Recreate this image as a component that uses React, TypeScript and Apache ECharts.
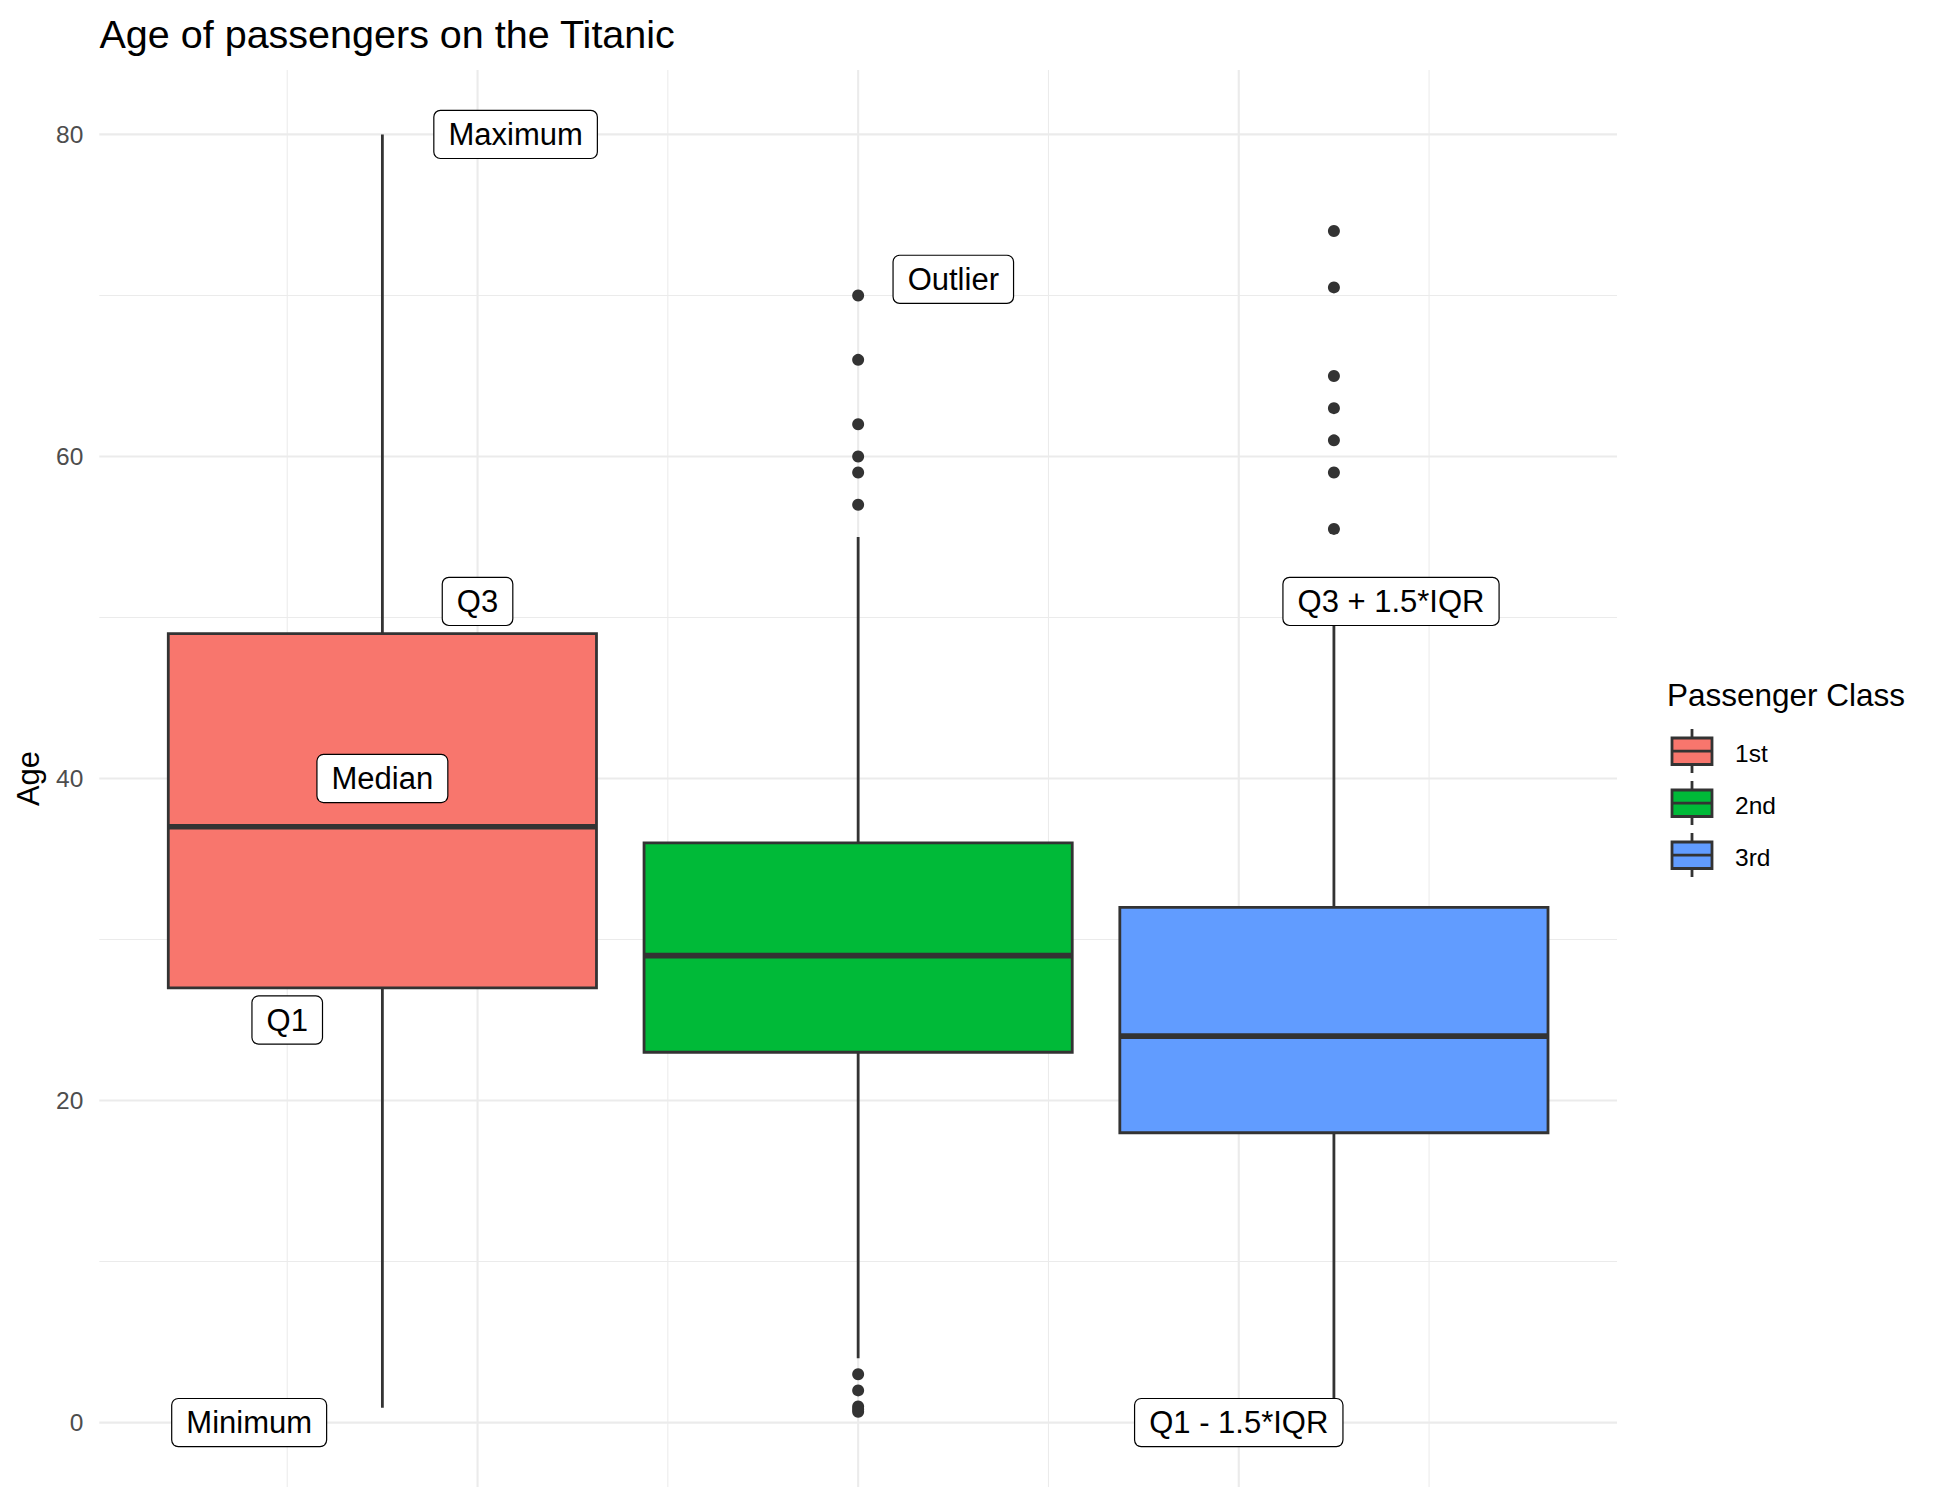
import React, { useEffect, useRef } from 'react';
import * as echarts from 'echarts';

const FONT = '"Liberation Sans", Arial, Helvetica, sans-serif';

const classes = ['1st', '2nd', '3rd'];
const classPositions = [1, 2, 3];
const classColors = ['#F8766D', '#00BA38', '#619CFF'];
// [lower whisker, Q1, median, Q3, upper whisker]
const boxStats = [
  [0.92, 27, 37, 49, 80],
  [4, 23, 29, 36, 55],
  [0.42, 18, 24, 32, 51],
];
const outliers2nd = [70, 66, 62, 60, 59, 57, 3, 2, 1, 0.83, 0.67];
const outliers3rd = [74, 70.5, 65, 63, 61, 59, 55.5];

const yTicks = [0, 20, 40, 60, 80];
const yMinorGrid = [10, 30, 50, 70];
const xMajorGrid = [1.2, 2.0, 2.8];
const xMinorGrid = [0.8, 1.6, 2.4, 3.2];

const annotationText = ['Maximum', 'Q3', 'Median', 'Q1', 'Minimum', 'Outlier', 'Q3 + 1.5*IQR', 'Q1 - 1.5*IQR'];
const annotationX = [1.28, 1.2, 1.0, 0.8, 0.72, 2.2, 3.12, 2.8];
const annotationY = [80, 51, 40, 25, 0, 71, 51, 0];

const X_MIN = 0.405;
const X_MAX = 3.595;
const Y_MIN = -4;
const Y_MAX = 84;
const BOX_WIDTH = 0.9;

function hGrid(values: number[], width: number) {
  return {
    type: 'custom',
    z: 0,
    silent: true,
    data: values.map((v) => [v]),
    renderItem: (params: any, api: any) => {
      const v = api.value(0);
      const a = api.coord([X_MIN, v]);
      const b = api.coord([X_MAX, v]);
      return {
        type: 'line',
        shape: { x1: a[0], y1: a[1], x2: b[0], y2: b[1] },
        style: { stroke: '#ebebeb', lineWidth: width },
      };
    },
  };
}

function vGrid(values: number[], width: number) {
  return {
    type: 'custom',
    z: 0,
    silent: true,
    data: values.map((v) => [v]),
    renderItem: (params: any, api: any) => {
      const v = api.value(0);
      const a = api.coord([v, Y_MIN]);
      const b = api.coord([v, Y_MAX]);
      return {
        type: 'line',
        shape: { x1: a[0], y1: a[1], x2: b[0], y2: b[1] },
        style: { stroke: '#ebebeb', lineWidth: width },
      };
    },
  };
}

export default function App() {
  const ref = useRef<HTMLDivElement>(null);

  useEffect(() => {
    if (!ref.current) return;
    const chart = echarts.init(ref.current, null, { renderer: 'svg' });

    const boxData = classPositions.map((x, i) => [x, ...boxStats[i]]);
    const outlierData = [
      ...outliers2nd.map((v) => [classPositions[1], v]),
      ...outliers3rd.map((v) => [classPositions[2], v]),
    ];
    const labelData = annotationText.map((t, i) => ({ name: t, value: [annotationX[i], annotationY[i]] }));

    const legendGraphics: any[] = [
      {
        type: 'text',
        x: 1667,
        y: 694.5,
        style: {
          text: 'Passenger Class',
          fontSize: 31.5,
          fontFamily: FONT,
          fill: '#000',
          align: 'left',
          verticalAlign: 'middle',
        },
      },
    ];
    classes.forEach((c, i) => {
      const dy = 52 * i;
      legendGraphics.push(
        {
          type: 'line',
          shape: { x1: 1692, y1: 729 + dy, x2: 1692, y2: 773 + dy },
          style: { stroke: '#333333', lineWidth: 2.8 },
        },
        {
          type: 'rect',
          shape: { x: 1672, y: 738 + dy, width: 40, height: 26.5 },
          style: { fill: classColors[i], stroke: '#333333', lineWidth: 2.8 },
        },
        {
          type: 'line',
          shape: { x1: 1672, y1: 751.2 + dy, x2: 1712, y2: 751.2 + dy },
          style: { stroke: '#333333', lineWidth: 2.8 },
        },
        {
          type: 'text',
          x: 1735,
          y: 753 + dy,
          style: {
            text: c,
            fontSize: 24.5,
            fontFamily: FONT,
            fill: '#000',
            align: 'left',
            verticalAlign: 'middle',
          },
        }
      );
    });

    chart.setOption({
      animation: false,
      backgroundColor: '#ffffff',
      textStyle: { fontFamily: FONT },
      title: {
        text: 'Age of passengers on the Titanic',
        left: 99.5,
        top: 13.5,
        padding: 0,
        textStyle: { fontSize: 39.5, fontWeight: 'normal', color: '#000', fontFamily: FONT },
      },
      grid: {
        left: 99.3,
        top: 70,
        width: 1517.7,
        height: 1417,
        containLabel: false,
        outerBoundsMode: 'none',
      },
      xAxis: {
        type: 'value',
        min: X_MIN,
        max: X_MAX,
        axisLine: { show: false },
        axisTick: { show: false },
        axisLabel: { show: false },
        splitLine: { show: false },
      },
      yAxis: {
        type: 'value',
        min: Y_MIN,
        max: Y_MAX,
        interval: 4,
        name: 'Age',
        nameLocation: 'middle',
        nameRotate: 90,
        nameGap: 55,
        nameTextStyle: { fontSize: 31, color: '#000', fontFamily: FONT },
        axisLine: { show: false },
        axisTick: { show: false },
        splitLine: { show: false },
        axisLabel: {
          margin: 16,
          fontSize: 24.5,
          color: '#4d4d4d',
          fontFamily: FONT,
          formatter: (v: number) => (yTicks.indexOf(v) >= 0 ? String(v) : ''),
        },
      },
      series: [
        hGrid(yMinorGrid, 1.05),
        vGrid(xMinorGrid, 1.05),
        hGrid(yTicks, 2.1),
        vGrid(xMajorGrid, 2.1),
        {
          type: 'custom',
          z: 2,
          silent: true,
          data: boxData,
          encode: { x: 0, y: [1, 2, 3, 4, 5] },
          renderItem: (params: any, api: any) => {
            const x = api.value(0);
            const lo = api.coord([x, api.value(1)]);
            const q1 = api.coord([x, api.value(2)]);
            const med = api.coord([x, api.value(3)]);
            const q3 = api.coord([x, api.value(4)]);
            const hi = api.coord([x, api.value(5)]);
            const halfW = api.size([BOX_WIDTH, 0])[0] / 2;
            const cx = lo[0];
            const stroke = { stroke: '#333333', lineWidth: 2.8 };
            return {
              type: 'group',
              children: [
                { type: 'line', shape: { x1: cx, y1: hi[1], x2: cx, y2: q3[1] }, style: stroke },
                { type: 'line', shape: { x1: cx, y1: q1[1], x2: cx, y2: lo[1] }, style: stroke },
                {
                  type: 'rect',
                  shape: { x: cx - halfW, y: q3[1], width: 2 * halfW, height: q1[1] - q3[1] },
                  style: { fill: classColors[params.dataIndex], stroke: '#333333', lineWidth: 2.8 },
                },
                {
                  type: 'line',
                  shape: { x1: cx - halfW, y1: med[1], x2: cx + halfW, y2: med[1] },
                  style: { stroke: '#333333', lineWidth: 5.6 },
                },
              ],
            };
          },
        },
        {
          type: 'scatter',
          z: 3,
          silent: true,
          symbol: 'circle',
          symbolSize: 12,
          itemStyle: { color: '#333333', opacity: 1 },
          data: outlierData,
        },
        {
          type: 'scatter',
          z: 5,
          silent: true,
          symbolSize: 0.1,
          itemStyle: { color: 'rgba(0,0,0,0)', opacity: 1 },
          data: labelData,
          label: {
            show: true,
            position: 'inside',
            formatter: '{b}',
            fontSize: 31,
            lineHeight: 33,
            color: '#000',
            fontFamily: FONT,
            backgroundColor: '#ffffff',
            borderColor: '#000000',
            borderWidth: 1.2,
            borderRadius: 6,
            padding: [7, 14, 7, 14],
          },
        },
      ],
      graphic: legendGraphics,
    });

    return () => {
      chart.dispose();
    };
  }, []);

  return (
    <div
      ref={ref}
      style={{ position: 'fixed', left: 0, top: 0, width: '1944px', height: '1512px', background: '#fff' }}
    />
  );
}
